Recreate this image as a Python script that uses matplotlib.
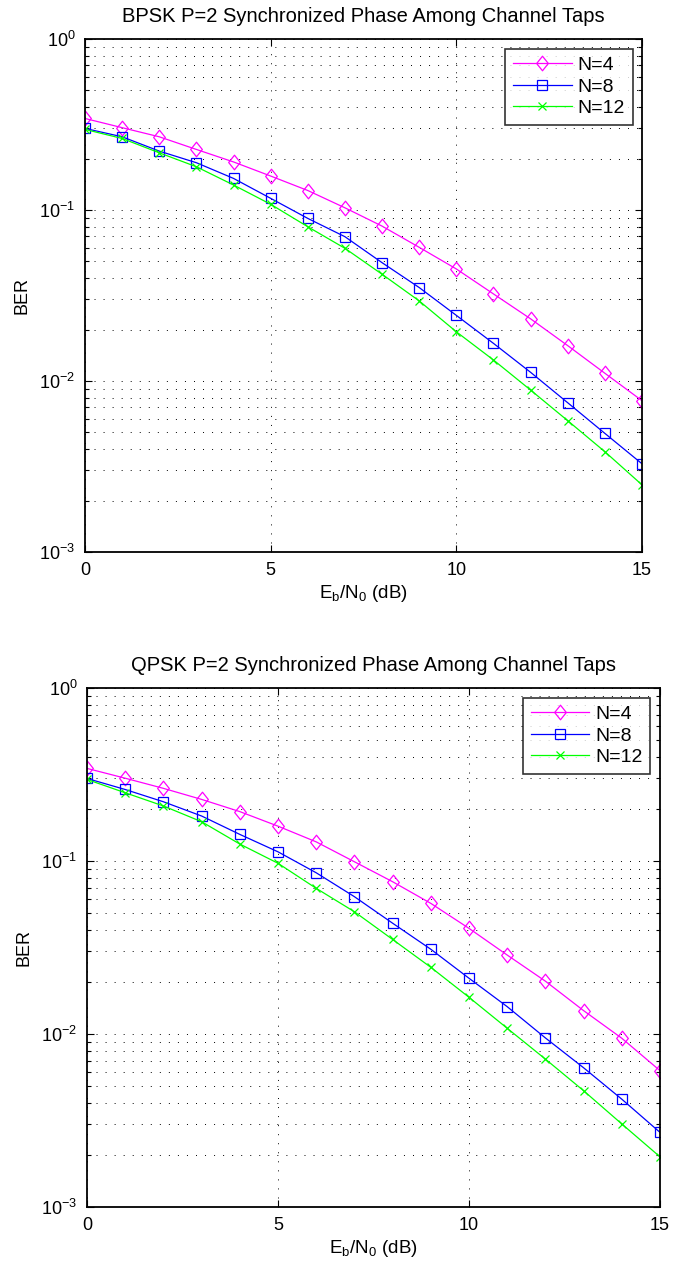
#!/usr/bin/env python3
"""
BER versus Eb/N0 for BPSK and QPSK with P=2 synchronized phase among
channel taps, for N = 4, 8 and 12 taps.
"""

import numpy as np
import matplotlib
matplotlib.use("Agg")
import matplotlib.pyplot as plt
from matplotlib.path import Path
from matplotlib.ticker import LogLocator, FixedLocator, NullFormatter

plt.rcParams['font.family'] = ['Liberation Sans', 'DejaVu Sans']
plt.rcParams['mathtext.fontset'] = 'custom'
plt.rcParams['mathtext.rm'] = 'Liberation Sans'
plt.rcParams['mathtext.it'] = 'Liberation Sans'

ebn0_db = list(range(0, 16))
labels = ['N=4', 'N=8', 'N=12']

# BPSK simulated BER
bpsk_n4 = [0.343, 0.303, 0.268, 0.226, 0.191, 0.158, 0.130, 0.103,
           0.0805, 0.0605, 0.0452, 0.0323, 0.0231, 0.0161, 0.0111, 0.00767]
bpsk_n8 = [0.300, 0.268, 0.221, 0.189, 0.153, 0.117, 0.0893, 0.0698,
           0.0492, 0.0352, 0.0242, 0.0166, 0.01124, 0.00746, 0.00494, 0.00328]
bpsk_n12 = [0.296, 0.262, 0.216, 0.179, 0.140, 0.108, 0.0798, 0.0597,
            0.0421, 0.0294, 0.0194, 0.01327, 0.00885, 0.00586, 0.00386, 0.00247]

# QPSK simulated BER
qpsk_n4 = [0.343, 0.301, 0.263, 0.227, 0.193, 0.159, 0.129, 0.099,
           0.0759, 0.0569, 0.0408, 0.0286, 0.0202, 0.01365, 0.00945, 0.00614]
qpsk_n8 = [0.300, 0.259, 0.220, 0.182, 0.1425, 0.113, 0.0855, 0.0622,
           0.0437, 0.0309, 0.0210, 0.01439, 0.00949, 0.00638, 0.0042, 0.0027]
qpsk_n12 = [0.296, 0.248, 0.208, 0.1687, 0.1253, 0.0970, 0.0695, 0.0509,
            0.0352, 0.0243, 0.0163, 0.01079, 0.00716, 0.0047, 0.00302, 0.00195]

# a slightly tall diamond, like the MATLAB 'd' marker
diamond = Path([(0, 1), (0.8, 0), (0, -1), (-0.8, 0), (0, 1)],
               [Path.MOVETO, Path.LINETO, Path.LINETO, Path.LINETO, Path.CLOSEPOLY])

colors = ['#ff00ff', '#0000ff', '#00ff00']
markers = [diamond, 's', 'x']
msizes = [10.5, 7.0, 6.0]

dot_grid = dict(color='black', linestyle=(0, (1, 8.3)), linewidth=0.7)


def draw_panel(ax, series, title):
    for y, lab, c, m, ms in zip(series, labels, colors, markers, msizes):
        ax.semilogy(ebn0_db, y, color=c, marker=m, markersize=ms,
                    markerfacecolor='none', markeredgecolor=c,
                    markeredgewidth=0.9, linewidth=0.9, label=lab)

    ax.set_xlim(0, 15)
    ax.set_ylim(1e-3, 1e0)
    ax.xaxis.set_major_locator(FixedLocator([0, 5, 10, 15]))
    ax.yaxis.set_major_locator(LogLocator(base=10, numticks=10))
    ax.yaxis.set_minor_locator(LogLocator(base=10, subs=np.arange(2, 10), numticks=10))
    ax.yaxis.set_minor_formatter(NullFormatter())

    ax.grid(True, which='major', axis='both', **dot_grid)
    ax.grid(True, which='minor', axis='y', **dot_grid)

    ax.tick_params(which='both', direction='in', top=True, right=True,
                   labelsize=13, width=0.8, pad=7)
    ax.tick_params(which='major', length=5)
    ax.tick_params(which='minor', length=3)
    for sp in ax.spines.values():
        sp.set_linewidth(1.3)

    ax.set_title(title, fontsize=14.5, pad=12)
    ax.set_xlabel(r'$\mathregular{E_b/N_0}$ (dB)', fontsize=13.5, labelpad=3)
    ax.set_ylabel('BER', fontsize=13, labelpad=6)

    leg = ax.legend(loc='upper right', bbox_to_anchor=(0.983, 0.981),
                    fontsize=14, frameon=True, fancybox=False,
                    borderaxespad=0, handlelength=3.0, handletextpad=0.3,
                    labelspacing=0.2, borderpad=0.4)
    leg.get_frame().set_edgecolor('black')
    leg.get_frame().set_linewidth(1.2)


fig = plt.figure(figsize=(6.75, 12.7), dpi=100)
ax_top = fig.add_axes([85 / 675, 1 - 552 / 1270, (642 - 85) / 675, (552 - 39) / 1270])
ax_bot = fig.add_axes([87 / 675, 1 - 1207 / 1270, (660 - 87) / 675, (1207 - 688) / 1270])

draw_panel(ax_top, [bpsk_n4, bpsk_n8, bpsk_n12],
           'BPSK P=2 Synchronized Phase Among Channel Taps')
draw_panel(ax_bot, [qpsk_n4, qpsk_n8, qpsk_n12],
           'QPSK P=2 Synchronized Phase Among Channel Taps')

fig.savefig('out.png', dpi=100)
